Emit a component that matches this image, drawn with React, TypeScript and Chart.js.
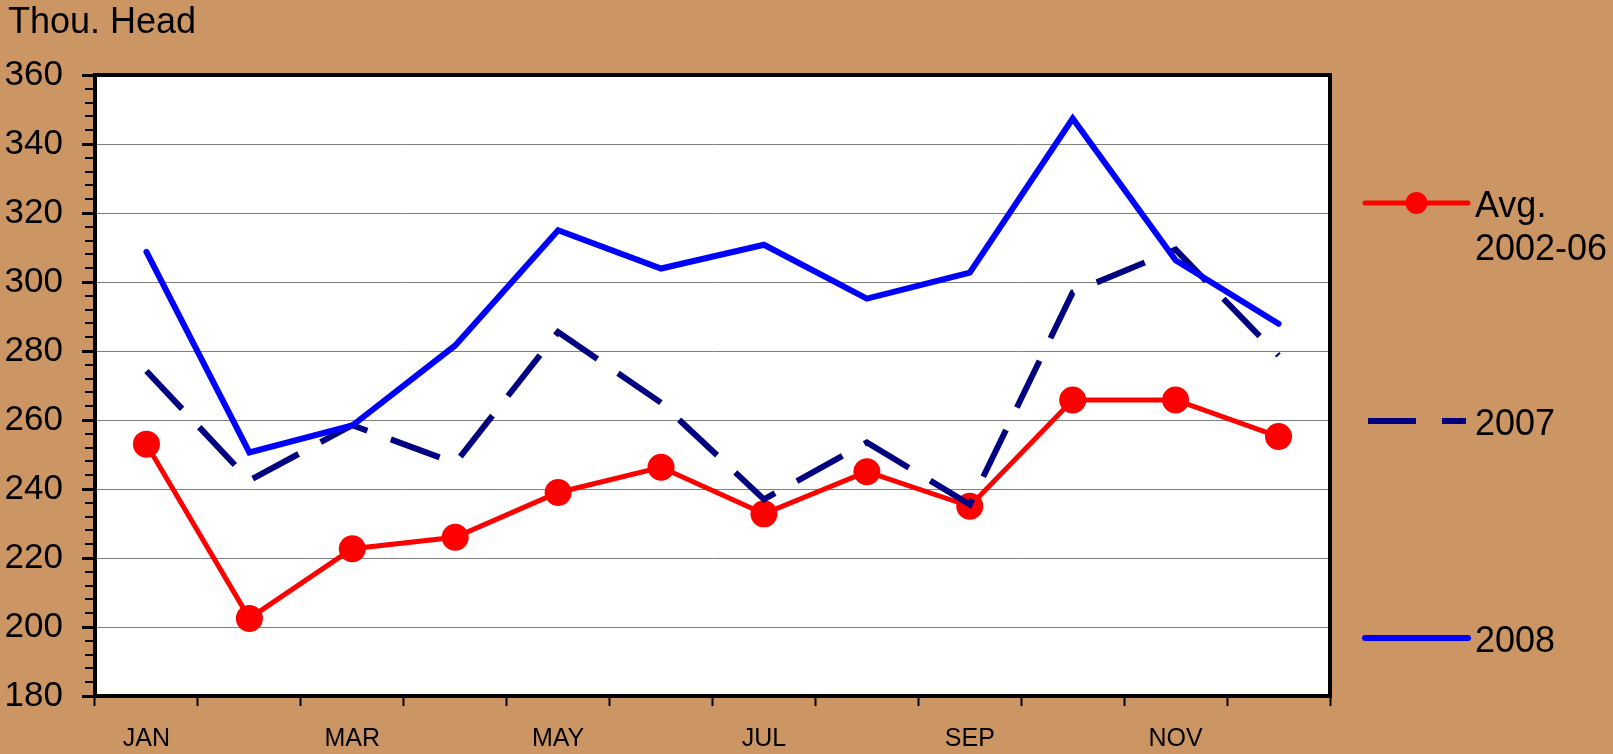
import React, { useEffect, useRef } from 'react';
import { Chart, registerables } from 'chart.js';

Chart.register(...registerables);

// ---------- data ----------
const months = ['JAN', 'FEB', 'MAR', 'APR', 'MAY', 'JUN', 'JUL', 'AUG', 'SEP', 'OCT', 'NOV', 'DEC'];
const xTickLabels = ['JAN', '', 'MAR', '', 'MAY', '', 'JUL', '', 'SEP', '', 'NOV', ''];
const avg0206 = [253, 202.5, 222.7, 226, 239, 246.3, 232.8, 245, 235, 265.8, 265.8, 255.2];
const y2007 = [274.2, 242.5, 258.5, 247.5, 285.5, 265, 237, 253.5, 235.5, 297, 309.4, 278.7];
const y2008 = [308.7, 250.6, 258.4, 281.6, 315, 303.9, 310.8, 295.2, 302.7, 347.4, 306.3, 287.9];
const seriesNames = ['Avg. 2002-06', '2007', '2008'];
const legendLines = [['Avg.', '2002-06'], ['2007'], ['2008']];
const yMin = 180;
const yMax = 360;
const yMajorStep = 20;
const yMinorStep = 4;
const yAxisTitle = 'Thou. Head';

// ---------- style ----------
const BG = 'rgb(204,150,100)';
const FONT = '"Liberation Sans", Arial, Helvetica, sans-serif';

const decorPlugin = {
  id: 'decor',
  beforeDraw(chart: any) {
    const { ctx, chartArea: a } = chart;
    ctx.save();
    ctx.fillStyle = BG;
    ctx.fillRect(0, 0, chart.width, chart.height);
    ctx.fillStyle = '#ffffff';
    ctx.fillRect(a.left, a.top, a.right - a.left, a.bottom - a.top);
    ctx.restore();
  },
  afterDraw(chart: any) {
    const { ctx, chartArea: a } = chart;
    const ys = chart.scales.y;
    ctx.save();
    // minor y ticks
    ctx.strokeStyle = '#000';
    ctx.lineWidth = 2;
    for (let v = yMin; v <= yMax; v += yMinorStep) {
      if (v % yMajorStep === 0) continue;
      const p = Math.round(ys.getPixelForValue(v));
      ctx.beginPath();
      ctx.moveTo(a.left - 10, p);
      ctx.lineTo(a.left, p);
      ctx.stroke();
    }
    // frame
    ctx.lineWidth = 4;
    ctx.strokeStyle = '#000';
    ctx.strokeRect(a.left, a.top, a.right - a.left, a.bottom - a.top);

    // axis title
    ctx.fillStyle = '#000';
    ctx.font = `36px ${FONT}`;
    ctx.textAlign = 'left';
    ctx.textBaseline = 'alphabetic';
    ctx.fillText(yAxisTitle, 8, 33);

    // legend
    const centers = [203, 421, 638];
    const x0 = 1365;
    const x1 = 1468;
    chart.data.datasets.forEach((ds: any, i: number) => {
      const yc = centers[i];
      ctx.save();
      ctx.strokeStyle = ds.borderColor;
      ctx.lineWidth = ds.borderWidth;
      if (ds.borderDash) {
        ctx.setLineDash([48, 26]);
        ctx.lineCap = 'butt';
        ctx.beginPath();
        ctx.moveTo(x0 + 3, yc);
        ctx.lineTo(x1 - 2, yc);
        ctx.stroke();
      } else {
        ctx.lineCap = 'round';
        ctx.beginPath();
        ctx.moveTo(x0, yc);
        ctx.lineTo(x1, yc);
        ctx.stroke();
      }
      ctx.setLineDash([]);
      if (ds.pointRadius > 0) {
        ctx.fillStyle = ds.pointBackgroundColor;
        ctx.beginPath();
        ctx.arc((x0 + x1) / 2, yc, 11, 0, Math.PI * 2);
        ctx.fill();
      }
      ctx.fillStyle = '#000';
      ctx.font = `36px ${FONT}`;
      ctx.textAlign = 'left';
      ctx.textBaseline = 'alphabetic';
      legendLines[i].forEach((line, k) => {
        ctx.fillText(line, 1475, yc + 14 + k * 43);
      });
      ctx.restore();
    });
    ctx.restore();
  },
};

export default function App() {
  const ref = useRef<HTMLCanvasElement | null>(null);

  useEffect(() => {
    if (!ref.current) return;
    const chart = new Chart(ref.current, {
      type: 'line',
      data: {
        labels: months,
        datasets: [
          {
            label: seriesNames[0],
            data: avg0206,
            borderColor: '#FF0000',
            backgroundColor: '#FF0000',
            borderWidth: 5,
            pointRadius: 13.5,
            pointHoverRadius: 13.5,
            pointBackgroundColor: '#FF0000',
            pointBorderWidth: 0,
            tension: 0,
            order: 3,
          },
          {
            label: seriesNames[1],
            data: y2007,
            borderColor: '#000080',
            backgroundColor: '#000080',
            borderWidth: 6,
            borderDash: [52, 25],
            borderCapStyle: 'butt',
            borderJoinStyle: 'miter',
            pointRadius: 0,
            pointHoverRadius: 0,
            tension: 0,
            order: 2,
          },
          {
            label: seriesNames[2],
            data: y2008,
            borderColor: '#0000FF',
            backgroundColor: '#0000FF',
            borderWidth: 6,
            borderCapStyle: 'round',
            borderJoinStyle: 'miter',
            pointRadius: 0,
            pointHoverRadius: 0,
            tension: 0,
            order: 1,
          },
        ] as any,
      },
      options: {
        responsive: false,
        animation: false,
        layout: { padding: { left: 0, top: 75, right: 283, bottom: 0 } },
        plugins: {
          legend: { display: false },
          tooltip: { enabled: false },
          title: { display: false },
        },
        scales: {
          x: {
            type: 'category',
            offset: true,
            grid: {
              offset: true,
              drawOnChartArea: false,
              drawTicks: true,
              tickLength: 10,
              tickColor: '#000',
              tickWidth: 2,
            },
            border: { display: false },
            ticks: {
              autoSkip: false,
              maxRotation: 0,
              minRotation: 0,
              padding: 18,
              color: '#000',
              font: { family: FONT, size: 25 },
              callback: (_v: any, i: number) => xTickLabels[i],
            },
            afterFit: (s: any) => {
              s.height = 58;
            },
          },
          y: {
            min: yMin,
            max: yMax,
            grid: {
              color: (c: any) =>
                c.tick && c.tick.value % yMajorStep === 0 && c.tick.value !== yMin && c.tick.value !== yMax
                  ? '#808080'
                  : 'rgba(0,0,0,0)',
              lineWidth: 1,
              drawTicks: true,
              tickLength: 13,
              tickColor: (c: any) => (c.tick && c.tick.value % yMajorStep === 0 ? '#000' : 'rgba(0,0,0,0)'),
              tickWidth: 3,
            },
            border: { display: false },
            ticks: {
              stepSize: yMinorStep,
              autoSkip: false,
              maxTicksLimit: 100,
              padding: 19,
              color: '#000',
              font: { family: FONT, size: 35 },
              callback: (v: any) => (Number(v) % yMajorStep === 0 ? String(v) : ''),
            },
            afterFit: (s: any) => {
              s.width = 95;
            },
          },
        },
      } as any,
      plugins: [decorPlugin],
    });
    return () => chart.destroy();
  }, []);

  return (
    <div
      style={{
        position: 'fixed',
        left: 0,
        top: 0,
        width: 1613,
        height: 754,
        background: BG,
        overflow: 'hidden',
      }}
    >
      <canvas ref={ref} width={1613} height={754} style={{ display: 'block', width: 1613, height: 754 }} />
    </div>
  );
}
